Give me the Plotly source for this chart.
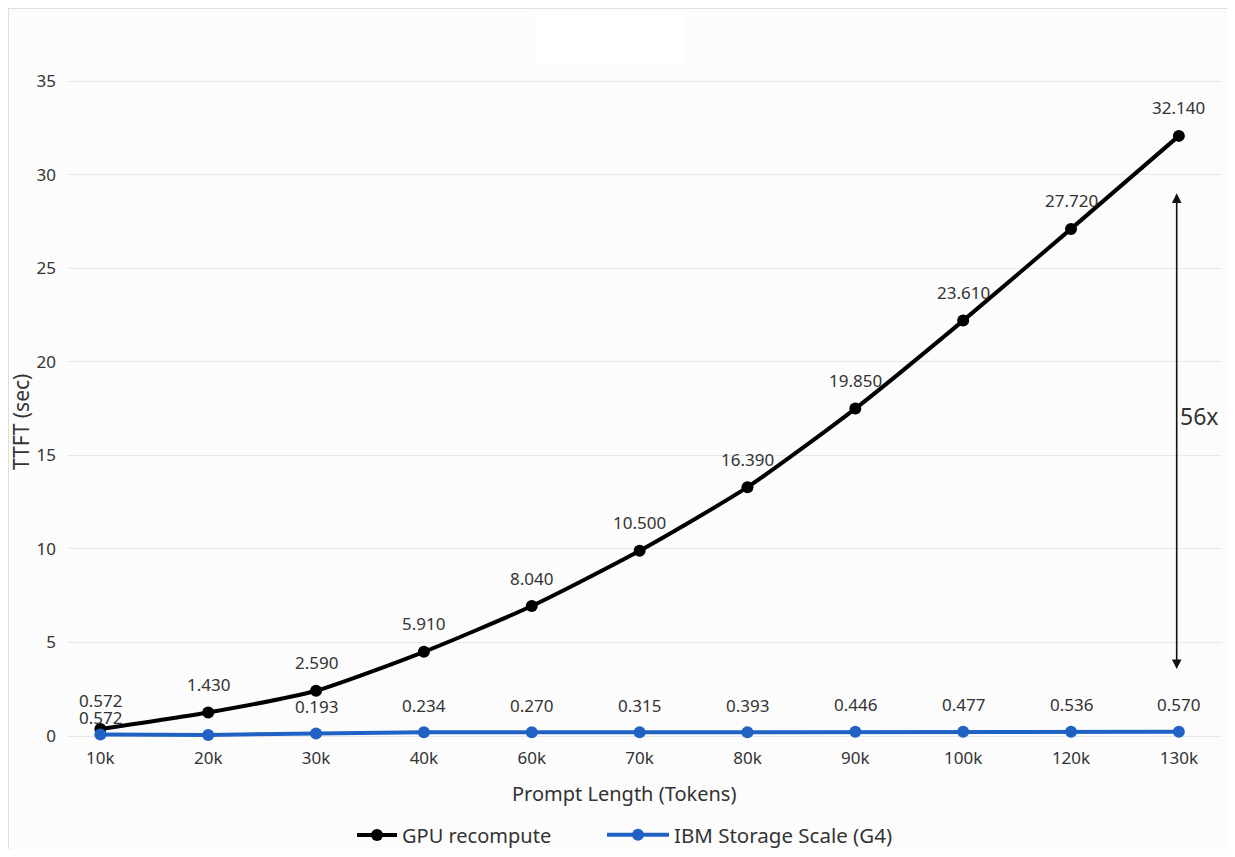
import plotly.graph_objects as go

categories = ["10k", "20k", "30k", "40k", "60k", "70k", "80k", "90k", "100k", "120k", "130k"]

# plotted positions
gpu_values = [0.38, 1.26, 2.42, 4.50, 6.95, 9.90, 13.30, 17.50, 22.20, 27.10, 32.07]
gpu_labels = ["0.572", "1.430", "2.590", "5.910", "8.040", "10.500", "16.390", "19.850", "23.610", "27.720", "32.140"]

g4_values = [0.08, 0.06, 0.14, 0.20, 0.20, 0.20, 0.21, 0.23, 0.23, 0.23, 0.23]
g4_labels = ["0.572", "", "0.193", "0.234", "0.270", "0.315", "0.393", "0.446", "0.477", "0.536", "0.570"]

y_ticks = [0, 5, 10, 15, 20, 25, 30, 35]
arrow_top, arrow_bottom, arrow_text = 29.0, 3.5, "56x"

FONT = "Noto Sans"
TXT = "#333333"
BLACK = "#000000"
BLUE = "#1f62c4"

fig = go.Figure()
fig.add_trace(go.Scatter(
    x=categories, y=gpu_values, mode="lines+markers", name="GPU recompute",
    line=dict(color=BLACK, width=4, shape="spline", smoothing=0.6),
    marker=dict(color=BLACK, size=12), cliponaxis=False, legend="legend",
))
fig.add_trace(go.Scatter(
    x=categories, y=g4_values, mode="lines+markers", name="IBM Storage Scale (G4)",
    line=dict(color=BLUE, width=4),
    marker=dict(color=BLUE, size=12), cliponaxis=False, legend="legend2",
))

# page is offset by the 8px body margin; reference pixel -> paper coordinates
L, R, T, B = 60, 5, 62, 109
W, H = 1219, 841
pw, ph = W - L - R, H - T - B
def px(refx): return (refx - 8 - L) / pw
def py(refy): return (H - B - (refy - 8)) / ph

annotations = []
for c, v, t in zip(categories, gpu_values, gpu_labels):
    annotations.append(dict(x=c, y=v, text=t, showarrow=False, xref="x", yref="y",
                            yshift=28, font=dict(family=FONT, size=17, color=TXT)))
for i, (c, v, t) in enumerate(zip(categories, g4_values, g4_labels)):
    if not t:
        continue
    annotations.append(dict(x=c, y=v, text=t, showarrow=False, xref="x", yref="y",
                            yshift=17 if i == 0 else 27,
                            font=dict(family=FONT, size=17, color=TXT)))

# double-headed arrow
annotations.append(dict(x=9.98, y=arrow_top, ax=9.98, ay=arrow_bottom, xref="x", yref="y",
                        axref="x", ayref="y", showarrow=True, arrowhead=2, startarrowhead=2,
                        arrowside="end+start", arrowwidth=1.6, arrowsize=1.2,
                        arrowcolor="#111111", text=""))
annotations.append(dict(x=9.98, y=17.1, text=arrow_text,
                        showarrow=False, xref="x", yref="y", xanchor="left", xshift=1,
                        font=dict(family=FONT, size=23, color=TXT)))

# axis titles
annotations.append(dict(x=px(624), y=py(793), xref="paper", yref="paper", showarrow=False,
                        text="Prompt Length (Tokens)", xanchor="center", yanchor="middle",
                        font=dict(family=FONT, size=20, color=TXT)))
annotations.append(dict(x=px(21), y=py(422), xref="paper", yref="paper", showarrow=False,
                        text="TTFT (sec)", textangle=-90, xanchor="center", yanchor="middle",
                        font=dict(family=FONT, size=21, color=TXT)))

shapes = [
    dict(type="rect", xref="paper", yref="paper", layer="below",
         x0=px(8), x1=px(1232), y0=py(855), y1=py(8),
         line=dict(color="#dedede", width=2), fillcolor="#fcfcfc"),
    dict(type="rect", xref="paper", yref="paper", layer="below",
         x0=px(535), x1=px(685), y0=py(65), y1=py(15),
         line=dict(width=0), fillcolor="#ffffff"),
]

fig.update_layout(
    width=W, height=H,
    margin=dict(l=L, r=R, t=T, b=B, autoexpand=False),
    paper_bgcolor="#ffffff", plot_bgcolor="rgba(0,0,0,0)",
    font=dict(family=FONT, size=17, color=TXT),
    showlegend=True,
    legend=dict(orientation="h", x=px(352), xanchor="left",
                y=py(835), yanchor="middle", itemwidth=40,
                font=dict(family=FONT, size=20, color=TXT), bgcolor="rgba(0,0,0,0)"),
    legend2=dict(orientation="h", x=px(602), xanchor="left",
                 y=py(835), yanchor="middle", itemwidth=62,
                 font=dict(family=FONT, size=20.5, color=TXT), bgcolor="rgba(0,0,0,0)"),
    annotations=annotations,
    shapes=shapes,
)
fig.update_xaxes(
    type="category", range=[-0.3, 10.4], showgrid=False, zeroline=False,
    showline=False, ticks="", tickfont=dict(family=FONT, size=17, color=TXT),
    ticklabelstandoff=6, automargin=False,
)
fig.update_yaxes(
    range=[-0.21, 35.59], tickvals=y_ticks, showgrid=True, gridcolor="#e8e8e8", gridwidth=1,
    zeroline=False, showline=False, ticks="", tickfont=dict(family=FONT, size=17, color=TXT),
    ticklabelstandoff=11, automargin=False,
)

fig.write_html("out.html")
